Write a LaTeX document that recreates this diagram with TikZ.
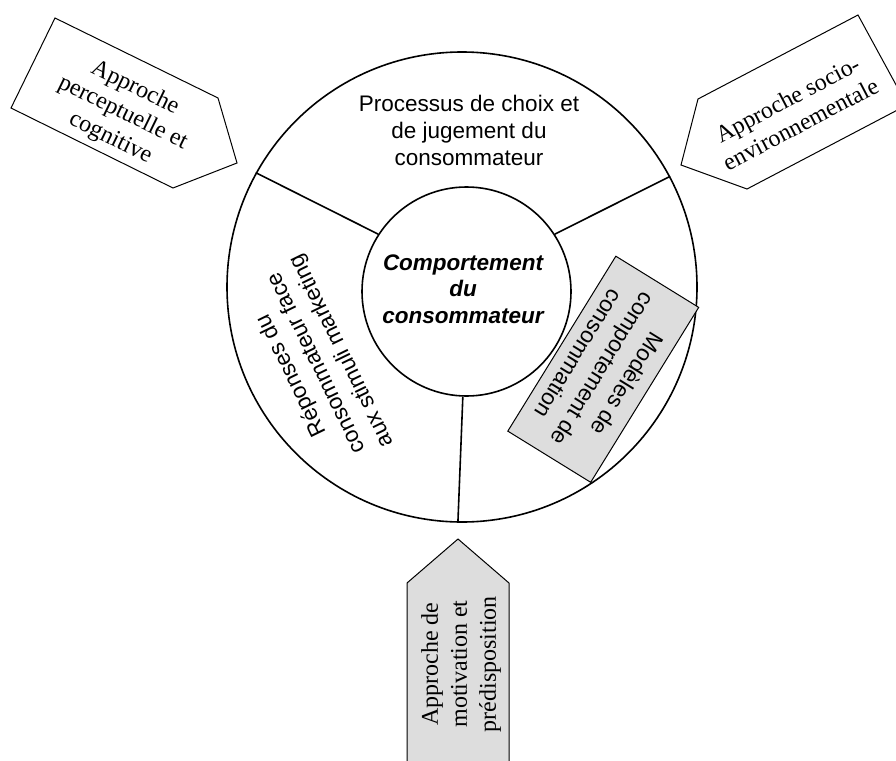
\documentclass[tikz,border=0pt]{standalone}
\usepackage{fontspec}
\setmainfont{Liberation Serif}
\newfontfamily\arialf{Liberation Sans}
\definecolor{boxgray}{RGB}{221,221,221}
\begin{document}
\begin{tikzpicture}[x=1pt,y=-1pt,
  ringline/.style={line width=1.6pt},
  arrowshape/.style={draw, line width=1pt, line join=miter},
  sanstext/.style={font=\arialf\fontsize{22.5}{27}\selectfont, align=center, inner sep=0pt},
  seriftext/.style={font=\fontsize{24}{28}\selectfont, align=center, inner sep=0pt}]
\useasboundingbox (0,0) rectangle (896,760);
\fill[white] (0,0) rectangle (896,760);
\clip (0,0) rectangle (896,760);

% left arrow
\coordinate (L1) at (55,18);
\coordinate (L2) at (218,98);
\coordinate (L3) at (237,163);
\coordinate (L4) at (173,188);
\coordinate (L5) at (11,108);
\draw[arrowshape, fill=white] (L1) -- (L2) -- (L3) -- (L4) -- (L5) -- cycle;
\node[seriftext, rotate=-26] (ltext) at (122.7,113.2) {Approche\\perceptuelle et\\cognitive};

% right arrow
\coordinate (R1) at (681,165);
\coordinate (R2) at (698,99);
\coordinate (R3) at (858,15);
\coordinate (R4) at (907,105);
\coordinate (R5) at (747,189);
\draw[arrowshape, fill=white] (R1) -- (R2) -- (R3) -- (R4) -- (R5) -- cycle;
\node[seriftext, rotate=27.7] (rtext) at (794,111.5) {Approche socio-\\environnementale};

% bottom arrow
\coordinate (B1) at (458,539);
\coordinate (B2) at (509,583);
\coordinate (B3) at (509,800);
\coordinate (B4) at (407,800);
\coordinate (B5) at (407,583);
\draw[arrowshape, fill=boxgray] (B1) -- (B2) -- (B3) -- (B4) -- (B5) -- cycle;
\node[seriftext, font=\fontsize{24}{29}\selectfont, rotate=90] (btext) at (461,664) {Approche de\\motivation et\\prédisposition};

% circles
\node[circle, draw, ringline, minimum size=470pt, inner sep=0pt] (ring) at (462,287) {};
\node[circle, draw, ringline, minimum size=209pt, inner sep=0pt] (core) at (466.5,291.5) {};
\node[sanstext, font=\arialf\bfseries\itshape\fontsize{22.5}{26.5}\selectfont] (coretext) at (463,289) {Comportement\\du\\consommateur};

% radial dividers
\draw[ringline] (core.147.7) -- (ring.151.3);
\draw[ringline] (core.33.8) -- (ring.28.3);
\draw[ringline] (core.268.7) -- (ring.269.5);

% segment texts
\node[sanstext] (toptext) at (469,130) {Processus de choix et\\de jugement du\\consommateur};
\node[sanstext, font=\arialf\fontsize{22.5}{28}\selectfont, rotate=116] (lefttext) at (317,363) {Réponses du\\consommateur face\\aux stimuli marketing};
\node[draw, fill=boxgray, line width=1pt, rotate=238.3, minimum width=205.6pt, minimum height=97.4pt, sanstext, font=\arialf\fontsize{22.5}{28.5}\selectfont] (models) at (603.25,369.25) {Modèles de\\comportement de\\consommation};
\end{tikzpicture}
\end{document}
